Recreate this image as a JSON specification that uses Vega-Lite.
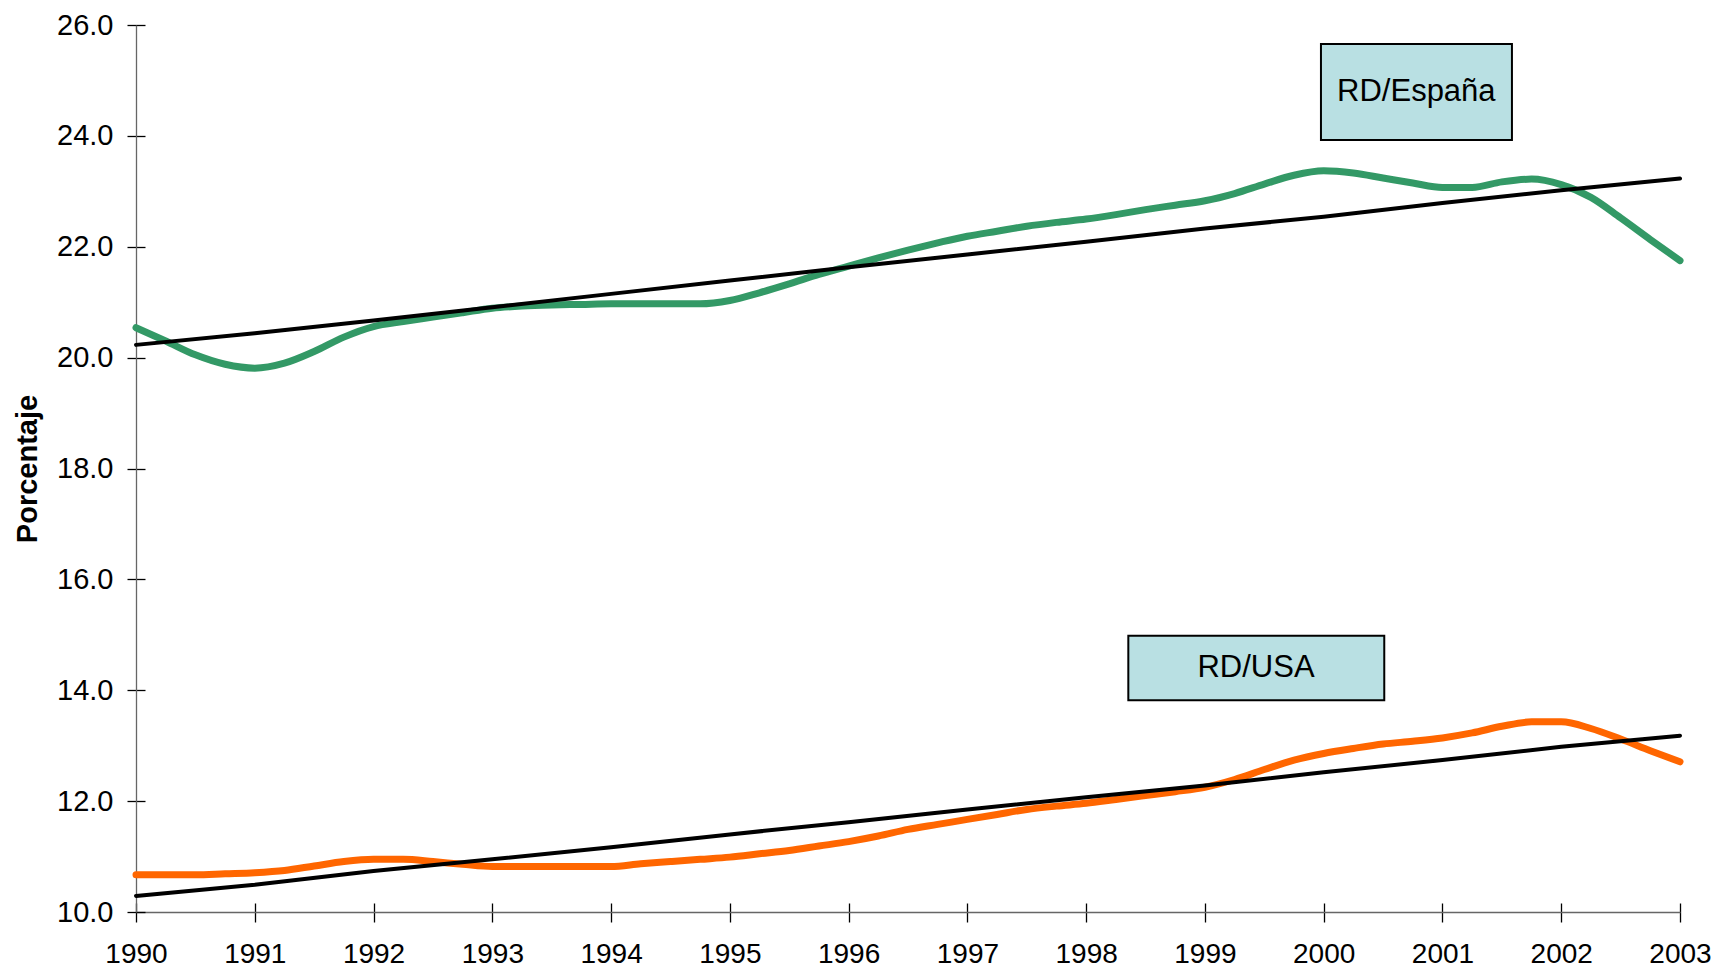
{
  "$schema": "https://vega.github.io/schema/vega-lite/v6.json",
  "autosize": "none",
  "width": 1544,
  "height": 887,
  "padding": {"left": 136, "top": 25, "right": 36, "bottom": 55},
  "background": "white",
  "config": {
    "view": {"stroke": null},
    "font": "Liberation Sans",
    "axis": {
      "grid": false,
      "labelFont": "Liberation Sans",
      "labelFontSize": 28,
      "labelColor": "#000",
      "domainColor": "#666",
      "domainWidth": 1.3,
      "tickColor": "#000",
      "tickWidth": 1.3,
      "titleFont": "Liberation Sans",
      "titleColor": "#000"
    }
  },
  "datasets": {
    "series": [
      {"t": 1990.00, "s": "RD/España", "v": 20.54},
      {"t": 1990.25, "s": "RD/España", "v": 20.30},
      {"t": 1990.50, "s": "RD/España", "v": 20.05},
      {"t": 1990.75, "s": "RD/España", "v": 19.88},
      {"t": 1991.00, "s": "RD/España", "v": 19.81},
      {"t": 1991.25, "s": "RD/España", "v": 19.90},
      {"t": 1991.50, "s": "RD/España", "v": 20.11},
      {"t": 1991.75, "s": "RD/España", "v": 20.37},
      {"t": 1992.00, "s": "RD/España", "v": 20.56},
      {"t": 1992.25, "s": "RD/España", "v": 20.65},
      {"t": 1992.50, "s": "RD/España", "v": 20.73},
      {"t": 1992.75, "s": "RD/España", "v": 20.81},
      {"t": 1993.00, "s": "RD/España", "v": 20.89},
      {"t": 1993.25, "s": "RD/España", "v": 20.93},
      {"t": 1993.50, "s": "RD/España", "v": 20.95},
      {"t": 1993.75, "s": "RD/España", "v": 20.96},
      {"t": 1994.00, "s": "RD/España", "v": 20.97},
      {"t": 1994.25, "s": "RD/España", "v": 20.97},
      {"t": 1994.50, "s": "RD/España", "v": 20.97},
      {"t": 1994.75, "s": "RD/España", "v": 20.97},
      {"t": 1995.00, "s": "RD/España", "v": 21.03},
      {"t": 1995.25, "s": "RD/España", "v": 21.17},
      {"t": 1995.50, "s": "RD/España", "v": 21.33},
      {"t": 1995.75, "s": "RD/España", "v": 21.50},
      {"t": 1996.00, "s": "RD/España", "v": 21.65},
      {"t": 1996.25, "s": "RD/España", "v": 21.80},
      {"t": 1996.50, "s": "RD/España", "v": 21.94},
      {"t": 1996.75, "s": "RD/España", "v": 22.07},
      {"t": 1997.00, "s": "RD/España", "v": 22.19},
      {"t": 1997.25, "s": "RD/España", "v": 22.28},
      {"t": 1997.50, "s": "RD/España", "v": 22.37},
      {"t": 1997.75, "s": "RD/España", "v": 22.44},
      {"t": 1998.00, "s": "RD/España", "v": 22.50},
      {"t": 1998.25, "s": "RD/España", "v": 22.58},
      {"t": 1998.50, "s": "RD/España", "v": 22.67},
      {"t": 1998.75, "s": "RD/España", "v": 22.75},
      {"t": 1999.00, "s": "RD/España", "v": 22.83},
      {"t": 1999.25, "s": "RD/España", "v": 22.96},
      {"t": 1999.50, "s": "RD/España", "v": 23.13},
      {"t": 1999.75, "s": "RD/España", "v": 23.29},
      {"t": 2000.00, "s": "RD/España", "v": 23.37},
      {"t": 2000.25, "s": "RD/España", "v": 23.33},
      {"t": 2000.50, "s": "RD/España", "v": 23.24},
      {"t": 2000.75, "s": "RD/España", "v": 23.15},
      {"t": 2001.00, "s": "RD/España", "v": 23.07},
      {"t": 2001.25, "s": "RD/España", "v": 23.07},
      {"t": 2001.50, "s": "RD/España", "v": 23.17},
      {"t": 2001.75, "s": "RD/España", "v": 23.22},
      {"t": 2002.00, "s": "RD/España", "v": 23.12},
      {"t": 2002.25, "s": "RD/España", "v": 22.89},
      {"t": 2002.50, "s": "RD/España", "v": 22.52},
      {"t": 2002.75, "s": "RD/España", "v": 22.13},
      {"t": 2003.00, "s": "RD/España", "v": 21.75},
      {"t": 1990.00, "s": "RD/USA", "v": 10.67},
      {"t": 1990.25, "s": "RD/USA", "v": 10.67},
      {"t": 1990.50, "s": "RD/USA", "v": 10.67},
      {"t": 1990.75, "s": "RD/USA", "v": 10.69},
      {"t": 1991.00, "s": "RD/USA", "v": 10.71},
      {"t": 1991.25, "s": "RD/USA", "v": 10.75},
      {"t": 1991.50, "s": "RD/USA", "v": 10.83},
      {"t": 1991.75, "s": "RD/USA", "v": 10.91},
      {"t": 1992.00, "s": "RD/USA", "v": 10.95},
      {"t": 1992.25, "s": "RD/USA", "v": 10.95},
      {"t": 1992.50, "s": "RD/USA", "v": 10.91},
      {"t": 1992.75, "s": "RD/USA", "v": 10.86},
      {"t": 1993.00, "s": "RD/USA", "v": 10.82},
      {"t": 1993.25, "s": "RD/USA", "v": 10.82},
      {"t": 1993.50, "s": "RD/USA", "v": 10.82},
      {"t": 1993.75, "s": "RD/USA", "v": 10.82},
      {"t": 1994.00, "s": "RD/USA", "v": 10.82},
      {"t": 1994.25, "s": "RD/USA", "v": 10.87},
      {"t": 1994.50, "s": "RD/USA", "v": 10.91},
      {"t": 1994.75, "s": "RD/USA", "v": 10.95},
      {"t": 1995.00, "s": "RD/USA", "v": 10.99},
      {"t": 1995.25, "s": "RD/USA", "v": 11.05},
      {"t": 1995.50, "s": "RD/USA", "v": 11.11},
      {"t": 1995.75, "s": "RD/USA", "v": 11.19},
      {"t": 1996.00, "s": "RD/USA", "v": 11.27},
      {"t": 1996.25, "s": "RD/USA", "v": 11.37},
      {"t": 1996.50, "s": "RD/USA", "v": 11.49},
      {"t": 1996.75, "s": "RD/USA", "v": 11.58},
      {"t": 1997.00, "s": "RD/USA", "v": 11.67},
      {"t": 1997.25, "s": "RD/USA", "v": 11.76},
      {"t": 1997.50, "s": "RD/USA", "v": 11.85},
      {"t": 1997.75, "s": "RD/USA", "v": 11.91},
      {"t": 1998.00, "s": "RD/USA", "v": 11.96},
      {"t": 1998.25, "s": "RD/USA", "v": 12.03},
      {"t": 1998.50, "s": "RD/USA", "v": 12.10},
      {"t": 1998.75, "s": "RD/USA", "v": 12.17},
      {"t": 1999.00, "s": "RD/USA", "v": 12.25},
      {"t": 1999.25, "s": "RD/USA", "v": 12.39},
      {"t": 1999.50, "s": "RD/USA", "v": 12.57},
      {"t": 1999.75, "s": "RD/USA", "v": 12.74},
      {"t": 2000.00, "s": "RD/USA", "v": 12.86},
      {"t": 2000.25, "s": "RD/USA", "v": 12.95},
      {"t": 2000.50, "s": "RD/USA", "v": 13.03},
      {"t": 2000.75, "s": "RD/USA", "v": 13.08},
      {"t": 2001.00, "s": "RD/USA", "v": 13.14},
      {"t": 2001.25, "s": "RD/USA", "v": 13.23},
      {"t": 2001.50, "s": "RD/USA", "v": 13.35},
      {"t": 2001.75, "s": "RD/USA", "v": 13.43},
      {"t": 2002.00, "s": "RD/USA", "v": 13.43},
      {"t": 2002.25, "s": "RD/USA", "v": 13.31},
      {"t": 2002.50, "s": "RD/USA", "v": 13.12},
      {"t": 2002.75, "s": "RD/USA", "v": 12.91},
      {"t": 2003.00, "s": "RD/USA", "v": 12.71}
    ],
    "trend": [
      {"t": 1990, "s": "Tendencia España", "v": 20.23},
      {"t": 1991, "s": "Tendencia España", "v": 20.44},
      {"t": 1992, "s": "Tendencia España", "v": 20.67},
      {"t": 1993, "s": "Tendencia España", "v": 20.91},
      {"t": 1994, "s": "Tendencia España", "v": 21.15},
      {"t": 1995, "s": "Tendencia España", "v": 21.39},
      {"t": 1996, "s": "Tendencia España", "v": 21.63},
      {"t": 1997, "s": "Tendencia España", "v": 21.86},
      {"t": 1998, "s": "Tendencia España", "v": 22.09},
      {"t": 1999, "s": "Tendencia España", "v": 22.33},
      {"t": 2000, "s": "Tendencia España", "v": 22.54},
      {"t": 2001, "s": "Tendencia España", "v": 22.79},
      {"t": 2002, "s": "Tendencia España", "v": 23.02},
      {"t": 2003, "s": "Tendencia España", "v": 23.23},
      {"t": 1990, "s": "Tendencia USA", "v": 10.29},
      {"t": 1991, "s": "Tendencia USA", "v": 10.49},
      {"t": 1992, "s": "Tendencia USA", "v": 10.74},
      {"t": 1993, "s": "Tendencia USA", "v": 10.95},
      {"t": 1994, "s": "Tendencia USA", "v": 11.17},
      {"t": 1995, "s": "Tendencia USA", "v": 11.40},
      {"t": 1996, "s": "Tendencia USA", "v": 11.62},
      {"t": 1997, "s": "Tendencia USA", "v": 11.85},
      {"t": 1998, "s": "Tendencia USA", "v": 12.07},
      {"t": 1999, "s": "Tendencia USA", "v": 12.28},
      {"t": 2000, "s": "Tendencia USA", "v": 12.52},
      {"t": 2001, "s": "Tendencia USA", "v": 12.74},
      {"t": 2002, "s": "Tendencia USA", "v": 12.98},
      {"t": 2003, "s": "Tendencia USA", "v": 13.18}
    ]
  },
  "layer": [
    {
      "data": {"name": "series"},
      "mark": {"type": "line", "interpolate": "monotone", "strokeWidth": 7, "strokeCap": "round", "strokeJoin": "round"},
      "encoding": {
        "x": {
          "field": "t", "type": "quantitative",
          "scale": {"domain": [1990, 2003], "nice": false, "zero": false},
          "axis": {"values": [1990,1991,1992,1993,1994,1995,1996,1997,1998,1999,2000,2001,2002,2003], "format": "d", "title": null, "domain": false, "offset": -9, "tickSize": 19, "labelPadding": 18, "labelFlush": false, "labelOverlap": false}
        },
        "y": {
          "field": "v", "type": "quantitative",
          "scale": {"domain": [10, 26], "nice": false, "zero": false},
          "axis": {"values": [10,12,14,16,18,20,22,24,26], "format": ".1f", "labelFontSize": 29, "title": "Porcentaje", "titleFontSize": 29, "titleFontWeight": "bold", "titlePadding": 14, "domain": false, "offset": -9, "tickSize": 18, "labelPadding": 14, "labelFlush": false}
        },
        "color": {"field": "s", "type": "nominal", "scale": {"domain": ["RD/España", "RD/USA"], "range": ["#339966", "#FF6600"]}, "legend": null},
        "detail": {"field": "s"}
      }
    },
    {
      "data": {"name": "trend"},
      "mark": {"type": "line", "color": "#000000", "strokeWidth": 4, "strokeCap": "round"},
      "encoding": {
        "x": {"field": "t", "type": "quantitative", "axis": {"orient": "bottom", "ticks": false, "labels": false, "domain": true, "title": null}},
        "y": {"field": "v", "type": "quantitative", "axis": {"orient": "left", "ticks": false, "labels": false, "domain": true, "title": null}},
        "detail": {"field": "s"}
      }
    },
    {
      "data": {"values": [{"label": "RD/España"}]},
      "mark": {"type": "rect", "fill": "#B9E0E3", "stroke": "#000000", "strokeWidth": 2},
      "encoding": {
        "x": {"datum": 1999.977, "type": "quantitative", "axis": null},
        "x2": {"datum": 2001.585},
        "y": {"datum": 25.657, "type": "quantitative", "axis": null},
        "y2": {"datum": 23.926}
      }
    },
    {
      "data": {"values": [{"label": "RD/España"}]},
      "mark": {"type": "text", "fontSize": 31, "color": "#000000", "align": "center", "baseline": "middle"},
      "encoding": {
        "x": {"datum": 2000.78, "type": "quantitative", "axis": null},
        "y": {"datum": 24.79, "type": "quantitative", "axis": null},
        "text": {"field": "label"}
      }
    },
    {
      "data": {"values": [{"label": "RD/USA"}]},
      "mark": {"type": "rect", "fill": "#B9E0E3", "stroke": "#000000", "strokeWidth": 2},
      "encoding": {
        "x": {"datum": 1998.355, "type": "quantitative", "axis": null},
        "x2": {"datum": 2000.51},
        "y": {"datum": 14.983, "type": "quantitative", "axis": null},
        "y2": {"datum": 13.818}
      }
    },
    {
      "data": {"values": [{"label": "RD/USA"}]},
      "mark": {"type": "text", "fontSize": 31, "color": "#000000", "align": "center", "baseline": "middle"},
      "encoding": {
        "x": {"datum": 1999.43, "type": "quantitative", "axis": null},
        "y": {"datum": 14.40, "type": "quantitative", "axis": null},
        "text": {"field": "label"}
      }
    }
  ],
  "resolve": {"axis": {"x": "independent", "y": "independent"}}
}
